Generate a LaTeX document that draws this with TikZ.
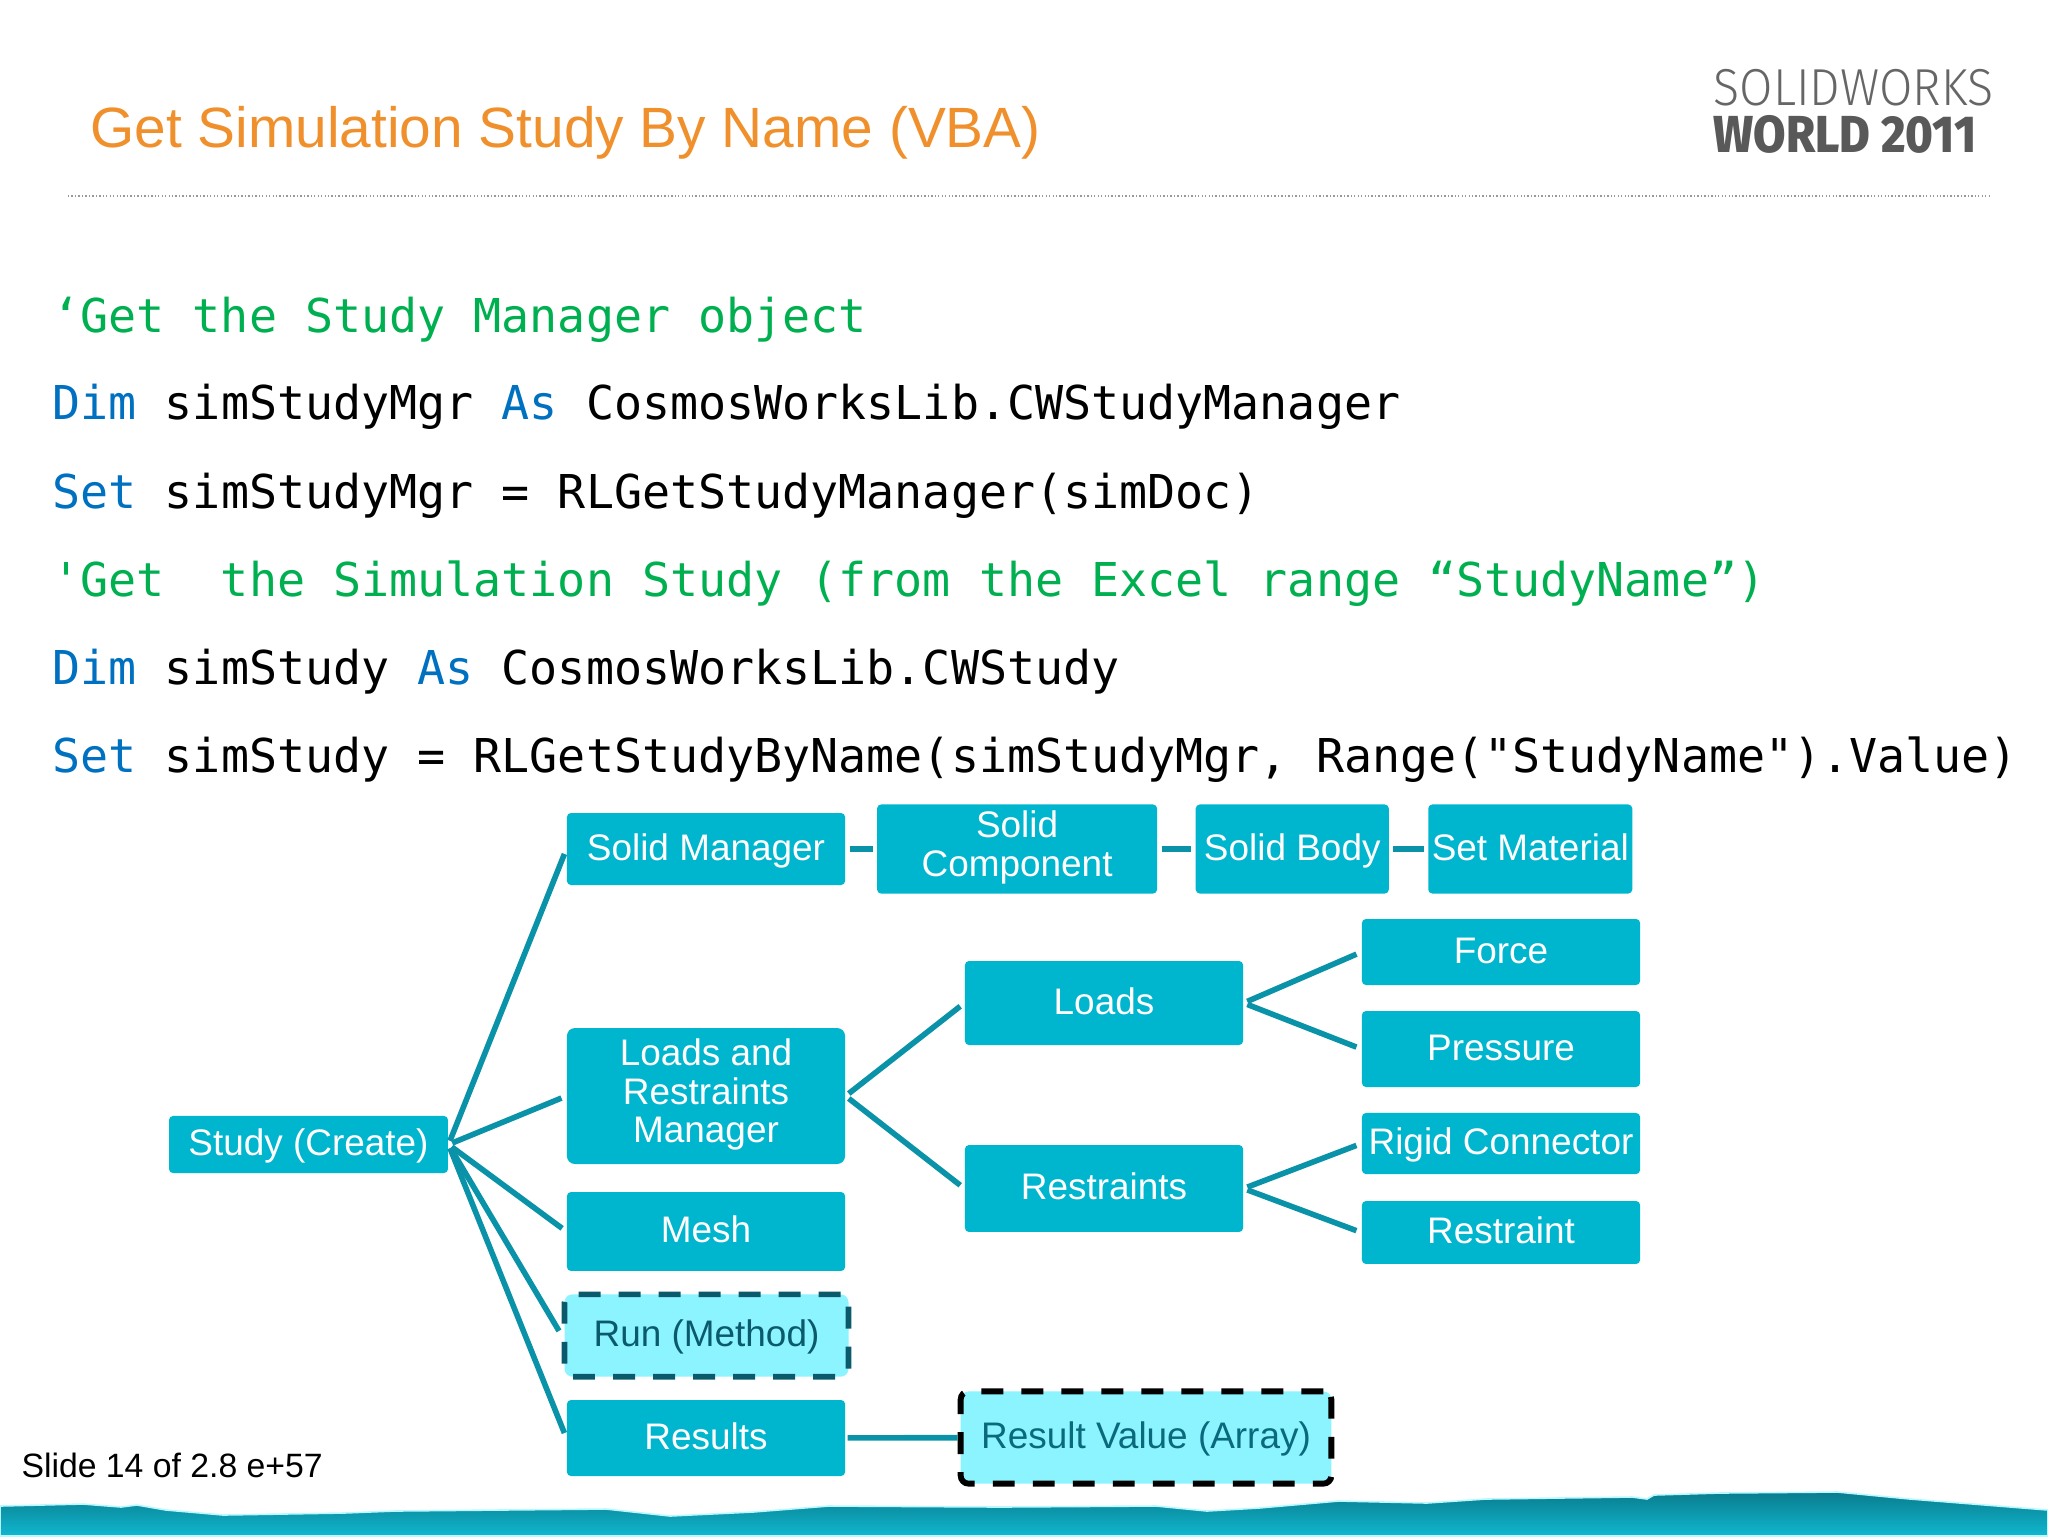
\documentclass[tikz,border=0pt]{standalone}
\usepackage{fontspec}
\setmainfont{Liberation Sans}
\setmonofont{DejaVu Sans Mono}
\newfontfamily\logolight[FakeStretch=.93]{Fira Sans Light}
\newfontfamily\logoheavy[FakeStretch=.905]{Fira Sans ExtraBold}
\usetikzlibrary{positioning}
\definecolor{teal}{HTML}{00B5CE}
\definecolor{linkteal}{HTML}{0A93A8}
\definecolor{paleteal}{HTML}{8CF4FF}
\definecolor{darkteal}{HTML}{0A5A6B}
\definecolor{valueteal}{HTML}{0A6A7C}
\definecolor{bandtop}{HTML}{0A7C8E}
\definecolor{bandlow}{HTML}{10B8D0}
\definecolor{codegreen}{HTML}{00B050}
\definecolor{codeblue}{HTML}{0070C0}
\definecolor{slideorange}{HTML}{F0902C}
\newcommand{\kw}[1]{\textcolor{codeblue}{#1}}
\newcommand{\boxstrut}{\rule[-4pt]{0pt}{16.4pt}}

\begin{document}
\begin{tikzpicture}[x=.375pt,y=-.375pt]
   \tikzset{box/.style = {rectangle, fill=teal, text=white, align=center, rounded corners=1.5pt, inner sep=0pt, font=\fontsize{13.85}{14.5}\selectfont, execute at begin node=\boxstrut, execute at end node=\boxstrut} }
   \tikzset{method/.style = {box, fill=paleteal, text=darkteal, draw=darkteal, line width=2.1pt, rounded corners=3pt, dash pattern=on 8.2pt off 6.8pt} }
   \tikzset{value/.style = {method, text=valueteal, draw=black, line width=2.2pt} }
   \tikzset{code/.style = {anchor=base west, inner sep=0pt, font=\ttfamily\fontsize{17.49}{20}\selectfont} }
   \tikzset{link/.style = {color=linkteal, line width=2.1pt, shorten >=2pt, shorten <=1.5pt} }
   \useasboundingbox (0,0) rectangle (2048,1536);

   % torn band at the bottom
   \path[draw=paleteal!60, line width=.6pt, top color=bandtop, bottom color=bandlow]
   (0,1506) -- (83,1504) -- (121,1507) -- (137,1505) -- (166,1510) -- (223,1515) -- (344,1513) -- (395,1511)
   -- (606,1509) -- (670,1516) -- (753,1512) -- (829,1506) -- (1000,1507) -- (1156,1506) -- (1207,1511)
   -- (1259,1508) -- (1339,1501) -- (1427,1503) -- (1486,1499) -- (1632,1497) -- (1647,1499) -- (1654,1495)
   -- (1720,1493) -- (1837,1492) -- (1910,1499) -- (2048,1510) -- (2048,1536) -- (0,1536) -- cycle;

   % header
   \node[anchor=base west, inner sep=0pt, text=slideorange, font=\fontsize{21.3}{24}\selectfont] (title) at (90,147.6) {Get Simulation Study By Name (VBA)};
   \node[anchor=base west, inner sep=0pt, text=black!60, font=\logolight\fontsize{19.5}{20}\selectfont] (logoa) at (1713,105) {SOLIDWORKS};
   \node[anchor=base west, inner sep=0pt, text=black!65, font=\logoheavy\fontsize{19.5}{20}\selectfont] (logob) at (1713,152) {WORLD 2011};
   \draw[black!40, line width=1.1pt, dash pattern=on .5pt off .8pt] (68,196) -- (1990,196);

   % code lines
   \node[code, text=codegreen] (line1) at (52,332) {‘Get the Study Manager object};
   \node[code] (line2) at (52,419) {\kw{Dim} simStudyMgr \kw{As} CosmosWorksLib.CWStudyManager};
   \node[code] (line3) at (52,508) {\kw{Set} simStudyMgr = RLGetStudyManager(simDoc)};
   \node[code, text=codegreen] (line4) at (52,596) {'Get\ \ the Simulation Study (from the Excel range “StudyName”)};
   \node[code] (line5) at (52,684) {\kw{Dim} simStudy \kw{As} CosmosWorksLib.CWStudy};
   \node[code] (line6) at (52,772) {\kw{Set} simStudy = RLGetStudyByName(simStudyMgr, Range("StudyName").Value)};

   % tree
   \node[box, minimum width=104.6pt, minimum height=21.4pt] (study) at (308.5,1144.5) {Study (Create)};
   \node[box, minimum width=104.3pt, minimum height=27pt] (solidmgr) at (706,849) {Solid Manager};
   \node[box, minimum width=105pt, minimum height=33.4pt, right=11.6pt of solidmgr] (solidcomp) {Solid\\Component};
   \node[box, minimum width=72.4pt, minimum height=33.4pt, right=14.1pt of solidcomp] (solidbody) {Solid Body};
   \node[box, minimum width=76.5pt, minimum height=33.4pt, right=14.4pt of solidbody] (setmat) {Set Material};
   \node[box, minimum width=104.3pt, minimum height=51pt, rounded corners=3pt] (lrmgr) at (706,1096) {Loads and\\Restraints\\Manager};
   \node[box, minimum width=104.3pt, minimum height=29.6pt] (mesh) at (706,1231.5) {Mesh};
   \node[method, minimum width=106.5pt, minimum height=30.9pt] (run) at (706.5,1335.5) {Run (Method)};
   \node[box, minimum width=104.3pt, minimum height=28.5pt] (results) at (706,1438) {Results};
   \node[value, minimum width=139pt, minimum height=34.6pt] (resval) at (1146,1437.5) {Result Value (Array)};
   \node[box, minimum width=104.3pt, minimum height=31.5pt] (loads) at (1104,1003) {Loads};
   \node[box, minimum width=104.3pt, minimum height=32.6pt] (restraints) at (1104,1188.5) {Restraints};
   \node[box, minimum width=104.3pt, minimum height=24.75pt] (force) at (1501,952) {Force};
   \node[box, minimum width=104.3pt, minimum height=28.5pt] (pressure) at (1501,1049) {Pressure};
   \node[box, minimum width=104.3pt, minimum height=22.9pt] (rigid) at (1501,1143.5) {Rigid Connector};
   \node[box, minimum width=104.3pt, minimum height=23.6pt] (restraint) at (1501,1232.5) {Restraint};

   \node[anchor=base west, inner sep=0pt, font=\fontsize{12.66}{14}\selectfont] (slideno) at (21,1477) {Slide 14 of 2.8 e+57};

   % links
   \draw[link]
   (study.east) edge (solidmgr.west)
   (study.east) edge (lrmgr.west)
   (study.east) edge (mesh.west)
   (study.east) edge (run.west)
   (study.east) edge (results.west)
   (lrmgr.east) edge (loads.west)
   (lrmgr.east) edge (restraints.west)
   (loads.east) edge (force.west)
   (loads.east) edge (pressure.west)
   (restraints.east) edge (rigid.west)
   (restraints.east) edge (restraint.west);
   \draw[link, shorten >=1.5pt]
   (solidmgr) edge (solidcomp)
   (solidcomp) edge (solidbody)
   (solidbody) edge (setmat);
   \draw[link, shorten >=0pt, shorten <=.8pt] (results) -- (resval);
\end{tikzpicture}
\end{document}
